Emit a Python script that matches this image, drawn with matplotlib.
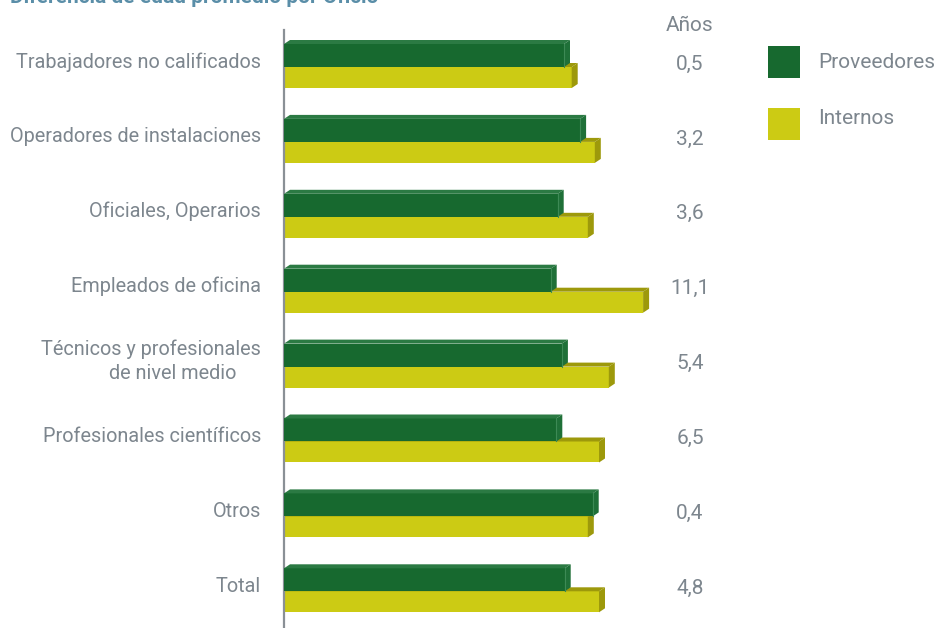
"""
Edad promedio por oficio: proveedores vs internos, barras horizontales con relieve
"""
import numpy as np
import matplotlib.pyplot as plt
from matplotlib.patches import Polygon, Rectangle

oficios = ["Trabajadores no calificados", "Operadores de instalaciones",
           "Oficiales, Operarios", "Empleados de oficina",
           "Técnicos y profesionales\nde nivel medio     ",
           "Profesionales científicos", "Otros", "Total"]
proveedores = [40.0, 42.3, 39.1, 38.1, 39.7, 38.9, 44.1, 40.1]
internos = [41.1, 44.4, 43.4, 51.3, 46.4, 45.0, 43.4, 45.0]
diferencia = ["0,5", "3,2", "3,6", "11,1", "5,4", "6,5", "0,4", "4,8"]

VERDE = "#17692f"
VERDE_TOP = "#2b7a43"
VERDE_LADO = "#1f7038"
AMARILLO = "#cccb14"
AMARILLO_OSC = "#9d990b"
GRIS = "#7d868e"

plt.rcParams['font.family'] = ['Roboto', 'DejaVu Sans']
FS = 15
FS_CAT = 14.3

W, H = 935, 628
fig = plt.figure(figsize=(W / 100, H / 100), dpi=100)
ax = fig.add_axes([284 / W, 0, 1 - 284 / W, (H - 30) / H])

px_x = 7.0      # pixeles por año
px_y = 74.9     # pixeles por fila
ax.set_xlim(0, (W - 284) / px_x)
ax.set_ylim(7.49, -0.494)

dx = 6 / px_x
dy = 4 / px_y
h_verde = 23 / px_y
h_amar = 21 / px_y


def caja(x_end, y_top, y_bot, top_color, side_color, z):
    # cara superior y lateral para dar efecto 3D
    top = Polygon([(0, y_top), (dx, y_top - dy), (x_end + dx, y_top - dy), (x_end, y_top)],
                  closed=True, facecolor=top_color, edgecolor="none", zorder=z)
    lado = Polygon([(x_end, y_top), (x_end + dx, y_top - dy), (x_end + dx, y_bot - dy), (x_end, y_bot)],
                   closed=True, facecolor=side_color, edgecolor="none", zorder=z)
    ax.add_patch(top)
    ax.add_patch(lado)


y = np.arange(len(oficios))
for i in y:
    # internos abajo, proveedores arriba
    ax.barh(i, internos[i], height=h_amar, align="edge", color=AMARILLO, zorder=2)
    caja(internos[i], i, i + h_amar, AMARILLO_OSC, AMARILLO_OSC, 2)
    ax.barh(i, proveedores[i], height=-h_verde, align="edge", color=VERDE, zorder=3)
    caja(proveedores[i], i - h_verde, i, VERDE_TOP, VERDE_LADO, 3)
    ax.plot([proveedores[i], proveedores[i]], [i - h_verde, i], color="#3d8a55", lw=0.8, zorder=3.5)

    ax.text(-23 / px_x, i - 0.07, oficios[i], ha="right", va="center", fontsize=FS_CAT,
            color=GRIS, multialignment="right", clip_on=False, linespacing=1.3)
    ax.text((690 - 284) / px_x, i - 0.04, diferencia[i], ha="center", va="center",
            fontsize=FS, color=GRIS)

ax.text((690 - 284) / px_x, -0.56, "Años", ha="center", va="center", fontsize=FS,
        color=GRIS, clip_on=False)

for s in ["top", "right", "bottom"]:
    ax.spines[s].set_visible(False)
ax.spines["left"].set_color("#8a9096")
ax.spines["left"].set_linewidth(1.6)
ax.set_xticks([])
ax.set_yticks([])

# leyenda
for yy, color, nombre, ty in [(46, VERDE, "Proveedores", 62), (108, AMARILLO, "Internos", 118)]:
    fig.patches.append(Rectangle((768 / W, 1 - (yy + 32) / H), 32 / W, 32 / H,
                                 transform=fig.transFigure, facecolor=color, edgecolor="none"))
    fig.text(818 / W, 1 - ty / H, nombre, ha="left", va="center", fontsize=FS, color=GRIS)

fig.text(10 / W, 1 - 3 / H, "Diferencia de edad promedio por Oficio", ha="left",
         va="baseline", fontsize=15, fontweight="bold", color="#5a8ea8")

fig.savefig("out.png", dpi=100)
